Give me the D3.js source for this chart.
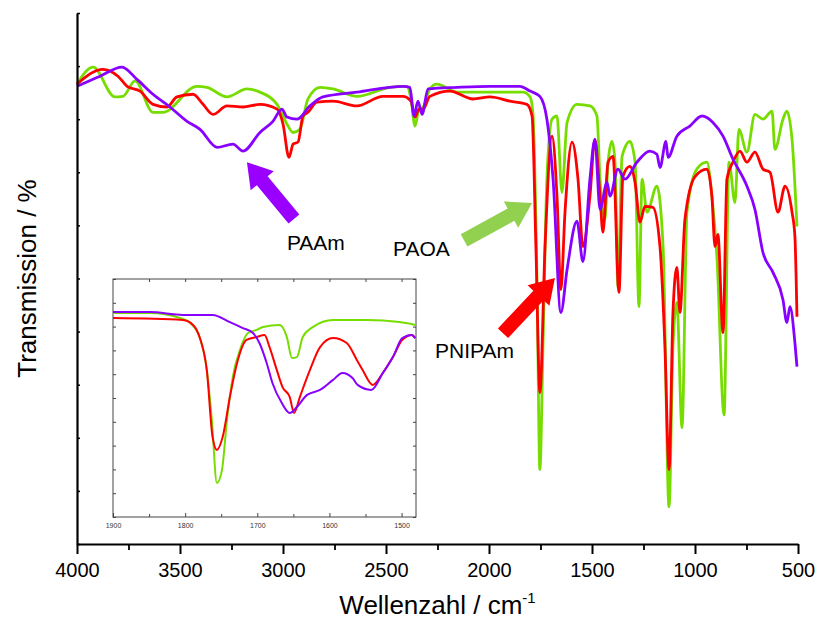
<!DOCTYPE html>
<html>
<head>
<meta charset="utf-8">
<script src="https://cdn.jsdelivr.net/npm/d3@7"></script>
<style>
  body { margin: 0; background: #fff; }
  text { font-family: "Liberation Sans", Arial, sans-serif; }
</style>
</head>
<body>
<div id="chart"></div>
<script>
// wavenumber / cm-1 and transmission (%) pairs
const paoa = [[4000,86.6],[3922,89.8],[3816,84.2],[3777,84.3],[3718,87.2],[3631,81.3],[3583,81.3],[3418,86.2],[3369,86.0],[3272,84.2],[3175,85.7],[3112,85.1],[3029,82.8],[2981,79.1],[2951,77.5],[2918,78.1],[2879,83.8],[2820,86.0],[2757,85.7],[2641,84.3],[2481,86.0],[2398,86.2],[2379,83.8],[2359,78.7],[2340,81.9],[2320,82.3],[2287,85.7],[2253,86.6],[2155,85.1],[1995,85.1],[1835,85.1],[1801,84.2],[1787,81.3],[1767,49.8],[1753,14.0],[1738,37.2],[1719,68.7],[1694,80.0],[1670,80.6],[1646,66.2],[1621,79.4],[1573,82.8],[1510,82.5],[1476,80.6],[1461,68.7],[1437,61.1],[1422,71.9],[1403,75.8],[1388,71.9],[1374,48.3],[1354,73.0],[1316,75.8],[1291,71.9],[1272,44.7],[1257,68.7],[1233,62.5],[1185,67.4],[1155,56.0],[1126,7.0],[1107,37.2],[1088,45.5],[1063,21.9],[1039,62.5],[991,70.6],[942,71.9],[918,65.5],[893,53.6],[859,24.3],[835,71.9],[806,64.3],[787,78.1],[748,73.8],[709,80.9],[670,80.0],[626,81.5],[612,74.3],[573,80.0],[554,81.5],[529,76.2],[505,59.8]];

const pnipam = [[4000,86.6],[3874,89.4],[3801,88.1],[3757,86.2],[3694,85.3],[3631,82.8],[3563,82.3],[3515,84.2],[3437,84.7],[3388,82.8],[3340,80.9],[3272,82.5],[3194,82.3],[3112,82.8],[3029,81.9],[3000,79.1],[2971,72.8],[2951,75.3],[2927,75.7],[2903,80.6],[2879,81.3],[2835,83.2],[2757,83.4],[2641,82.5],[2515,84.3],[2418,84.3],[2379,83.4],[2359,80.4],[2340,81.9],[2320,81.9],[2287,84.3],[2189,85.3],[2078,83.8],[1995,84.2],[1898,83.4],[1816,82.8],[1791,80.6],[1772,55.5],[1753,28.5],[1728,56.0],[1694,76.8],[1670,65.5],[1651,47.9],[1631,62.5],[1597,75.7],[1568,68.7],[1544,56.0],[1510,65.5],[1486,76.2],[1461,65.5],[1447,58.7],[1422,71.9],[1398,73.0],[1369,47.4],[1350,69.2],[1316,71.1],[1291,68.1],[1267,60.6],[1243,63.6],[1204,63.4],[1170,56.0],[1146,37.2],[1126,14.0],[1107,43.6],[1088,52.1],[1073,43.6],[1049,61.1],[1000,69.2],[942,70.6],[918,65.5],[903,56.0],[889,58.3],[864,39.8],[845,68.7],[816,71.9],[782,74.0],[748,71.9],[709,73.8],[670,70.6],[636,70.0],[597,62.5],[563,67.4],[529,62.5],[515,57.9],[505,42.8]];

const paam = [[4000,86.2],[3888,88.1],[3782,89.8],[3709,87.5],[3631,84.7],[3549,82.3],[3466,79.6],[3403,78.1],[3320,74.7],[3243,75.3],[3194,74.0],[3112,77.5],[3049,79.6],[3005,81.9],[2981,80.4],[2932,80.0],[2869,82.5],[2806,84.2],[2641,85.1],[2418,86.2],[2384,86.0],[2364,80.6],[2345,83.4],[2325,80.9],[2296,85.7],[2155,86.0],[1995,86.2],[1850,86.2],[1801,85.3],[1753,84.3],[1719,80.0],[1689,68.7],[1651,43.6],[1621,51.7],[1573,60.8],[1544,53.2],[1510,68.7],[1486,76.2],[1461,63.0],[1427,68.1],[1413,65.5],[1374,70.6],[1340,68.7],[1282,71.9],[1219,74.0],[1185,73.4],[1170,70.9],[1141,75.8],[1131,72.8],[1088,76.8],[1025,78.7],[966,80.6],[913,79.4],[864,76.8],[816,72.5],[748,67.4],[709,63.0],[670,54.9],[621,51.1],[573,46.0],[554,41.7],[539,44.7],[515,37.9],[505,33.4]];

// inset: 1900-1480 cm-1 carbonyl / amide region
const paoaInset = [[1900,85.7],[1849,85.7],[1807,83.6],[1793,81.5],[1780,75.6],[1770,61.8],[1763,40.8],[1756,14.3],[1749,19.7],[1742,40.8],[1734,58.8],[1724,70.2],[1713,77.3],[1701,78.6],[1692,79.8],[1669,80.7],[1659,75.6],[1652,66.8],[1645,67.2],[1637,75.6],[1623,79.8],[1595,82.8],[1548,82.8],[1503,81.9],[1481,80.7]];
const pnipamInset = [[1900,83.6],[1803,82.8],[1789,80.7],[1780,75.6],[1770,61.8],[1762,33.6],[1756,28.2],[1748,33.6],[1738,50.4],[1728,64.7],[1715,74.4],[1701,75.6],[1690,76.5],[1683,71.4],[1673,61.8],[1665,54.6],[1655,50.4],[1649,43.7],[1641,50.4],[1627,61.8],[1613,71.4],[1595,75.2],[1576,73.1],[1562,66.0],[1554,61.8],[1540,55.5],[1526,60.5],[1512,67.2],[1499,74.4],[1486,76.5],[1481,75.2]];
const paamInset = [[1900,86.1],[1849,86.1],[1803,84.9],[1762,84.9],[1738,81.9],[1720,79.4],[1706,77.3],[1697,73.1],[1687,64.7],[1679,56.3],[1666,47.9],[1655,43.7],[1645,46.2],[1631,51.3],[1613,53.4],[1595,57.6],[1582,60.5],[1568,58.4],[1561,55.5],[1542,53.4],[1526,60.5],[1512,67.2],[1499,75.2],[1486,76.5],[1481,75.2]];

const xTicks = [4000, 3500, 3000, 2500, 2000, 1500, 1000, 500];
const insetTicks = [1900, 1800, 1700, 1600, 1500];

// annotation arrows: [tail, tip] in data units, plus label anchor
const labels = [
  { name: 'PAAm',   color: '#9900ff', tail: [2947, 61.2], tip: [3175, 71.9], at: [2981, 55.4] },
  { name: 'PAOA',   color: '#92d050', tail: [2121, 57.2], tip: [1791, 64.2], at: [2466, 54.2] },
  { name: 'PNIPAm', color: '#ff0000', tail: [1932, 39.7], tip: [1680, 50.1], at: [2262, 35.0] }
];

const width = 818, height = 628;

const svg = d3.select('#chart').append('svg')
    .attr('width', width)
    .attr('height', height);

const x = d3.scaleLinear().domain([4000, 500]).range([77, 798]);
const y = d3.scaleLinear().domain([0, 100]).range([544, 13]);

const line = d3.line()
    .x(d => x(d[0]))
    .y(d => y(d[1]))
    .curve(d3.curveMonotoneX);

const series = [
  { data: paoa, color: '#77dd00' },
  { data: pnipam, color: '#ff0000' },
  { data: paam, color: '#8800ff' }
];

svg.selectAll('path.spec')
    .data(series)
    .enter()
    .append('path')
    .attr('class', 'spec')
    .attr('d', d => line(d.data))
    .attr('fill', 'none')
    .attr('stroke', d => d.color)
    .attr('stroke-width', 2.8)
    .attr('stroke-linejoin', 'round');

// axes
const xAxis = svg.append('g')
    .attr('transform', `translate(0,${y(0)})`)
    .call(d3.axisBottom(x).tickValues(xTicks).tickSize(10).tickSizeOuter(0).tickPadding(9).tickFormat(d3.format('d')));
xAxis.select('.domain').attr('stroke-width', 2.2);
xAxis.selectAll('.tick line').attr('stroke-width', 2);
xAxis.selectAll('text').attr('font-size', 20).attr('fill', '#000');

svg.append('g')
    .attr('transform', `translate(0,${y(0)})`)
    .call(d3.axisBottom(x).tickValues(d3.range(3750, 500, -500)).tickSize(6).tickFormat(''))
    .call(g => g.select('.domain').remove())
    .selectAll('.tick line').attr('stroke-width', 1.8);

const yAxis = svg.append('g')
    .attr('transform', `translate(${x(4000)},0)`)
    .call(d3.axisLeft(y).ticks(10).tickSize(-3).tickSizeOuter(0).tickFormat(''));
yAxis.select('.domain').attr('stroke-width', 2.2);
yAxis.selectAll('.tick line').attr('stroke-width', 1.5);

svg.append('text')
    .attr('transform', `translate(36,${(y(0) + y(100)) / 2}) rotate(-90)`)
    .attr('text-anchor', 'middle')
    .attr('font-size', 26)
    .text('Transmission / %');

const xt = svg.append('text')
    .attr('x', (x(4000) + x(500)) / 2)
    .attr('y', 614)
    .attr('text-anchor', 'middle')
    .attr('font-size', 26);
xt.append('tspan').text('Wellenzahl / cm');
xt.append('tspan').attr('font-size', 15).attr('dy', -11).text('-1');

// arrows
function arrowPath(t0, t1) {
  const dx = t1[0] - t0[0], dy = t1[1] - t0[1];
  const len = Math.hypot(dx, dy);
  const ux = dx / len, uy = dy / len, px = -uy, py = ux;
  const sw = 7, hw = 15, hl = 24;
  const bx = t1[0] - ux * hl, by = t1[1] - uy * hl;
  const pts = [
    [t0[0] + px * sw, t0[1] + py * sw],
    [bx + px * sw, by + py * sw],
    [bx + px * hw, by + py * hw],
    t1,
    [bx - px * hw, by - py * hw],
    [bx - px * sw, by - py * sw],
    [t0[0] - px * sw, t0[1] - py * sw]
  ];
  return 'M' + pts.map(p => p.join(',')).join('L') + 'Z';
}

const ann = svg.selectAll('g.ann')
    .data(labels)
    .enter()
    .append('g')
    .attr('class', 'ann');

ann.append('path')
    .attr('d', d => arrowPath([x(d.tail[0]), y(d.tail[1])], [x(d.tip[0]), y(d.tip[1])]))
    .attr('fill', d => d.color);

ann.append('text')
    .attr('x', d => x(d.at[0]))
    .attr('y', d => y(d.at[1]))
    .attr('font-size', 21)
    .text(d => d.name);

// inset
const xi = d3.scaleLinear().domain([1900, 1480]).range([113, 416]);
const yi = d3.scaleLinear().domain([0, 100]).range([517, 279]);

const inset = svg.append('g');
inset.append('rect')
    .attr('x', xi(1900)).attr('y', yi(100))
    .attr('width', xi(1480) - xi(1900)).attr('height', yi(0) - yi(100))
    .attr('fill', '#fff').attr('stroke', '#444').attr('stroke-width', 1);

const lineI = d3.line()
    .x(d => xi(d[0]))
    .y(d => yi(d[1]))
    .curve(d3.curveMonotoneX);

inset.selectAll('path.ins')
    .data([
      { data: paoaInset, color: '#77dd00' },
      { data: pnipamInset, color: '#ff0000' },
      { data: paamInset, color: '#8800ff' }
    ])
    .enter()
    .append('path')
    .attr('class', 'ins')
    .attr('d', d => lineI(d.data))
    .attr('fill', 'none')
    .attr('stroke', d => d.color)
    .attr('stroke-width', 2);

const ib = inset.append('g')
    .attr('transform', `translate(0,${yi(0)})`)
    .call(d3.axisBottom(xi).tickValues(insetTicks).tickSize(-4).tickPadding(6).tickSizeOuter(0).tickFormat(d3.format('d')));
ib.select('.domain').remove();
ib.selectAll('text').attr('font-size', 7).attr('fill', '#333');
ib.selectAll('.tick line').attr('stroke', '#444');

inset.append('g')
    .attr('transform', `translate(0,${yi(0)})`)
    .call(d3.axisBottom(xi).tickValues([1850, 1750, 1650, 1550]).tickSize(-3).tickFormat(''))
    .call(g => g.select('.domain').remove())
    .selectAll('.tick line').attr('stroke', '#444');

inset.append('g')
    .attr('transform', `translate(0,${yi(100)})`)
    .call(d3.axisTop(xi).tickValues(d3.range(1850, 1480, -50)).tickSize(-3).tickFormat(''))
    .call(g => g.select('.domain').remove())
    .selectAll('.tick line').attr('stroke', '#444');

inset.append('g')
    .attr('transform', `translate(${xi(1900)},0)`)
    .call(d3.axisLeft(yi).ticks(10).tickSize(-3).tickFormat(''))
    .call(g => g.select('.domain').remove())
    .selectAll('.tick line').attr('stroke', '#444');

inset.append('g')
    .attr('transform', `translate(${xi(1480)},0)`)
    .call(d3.axisRight(yi).ticks(10).tickSize(-3).tickFormat(''))
    .call(g => g.select('.domain').remove())
    .selectAll('.tick line').attr('stroke', '#444');
</script>
</body>
</html>
